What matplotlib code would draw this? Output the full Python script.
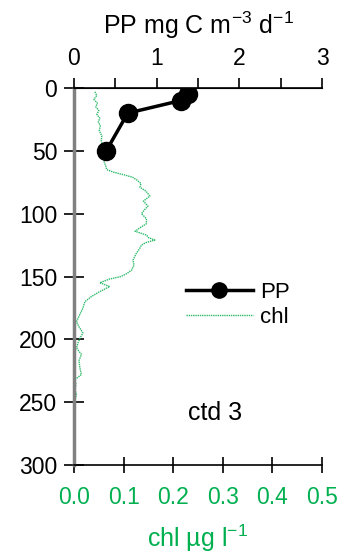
import matplotlib
matplotlib.use("Agg")
import matplotlib.pyplot as plt
from matplotlib.lines import Line2D

plt.rcParams['font.family'] = ['Liberation Sans', 'DejaVu Sans']
plt.rcParams['mathtext.fontset'] = 'custom'
plt.rcParams['mathtext.rm'] = 'Liberation Sans'
plt.rcParams['mathtext.default'] = 'regular'

# primary production at sampled depths
pp_depth = [5, 10, 20, 50]
pp_value = [1.38, 1.29, 0.65, 0.39]

# chlorophyll profile from the ctd cast
chl_depth = [3, 6, 9, 12, 15, 18, 21, 24, 27, 30,
             34, 38, 42, 46, 50, 54, 58, 62, 65, 67,
             69, 71, 73, 76, 79, 82, 86, 90, 94, 97,
             100, 104, 108, 111, 114, 117, 119, 121, 123, 125,
             128, 132, 137, 141, 145, 148, 150, 152, 155, 158,
             162, 166, 170, 175, 180, 186, 190, 195, 199, 203,
             207, 212, 217, 223, 228, 232, 236, 240, 244, 248]
chl_value = [0.042, 0.046, 0.040, 0.047, 0.044, 0.050, 0.046, 0.052, 0.049, 0.053,
             0.051, 0.056, 0.055, 0.058, 0.057, 0.062, 0.060, 0.064, 0.066, 0.080,
             0.100, 0.118, 0.126, 0.135, 0.133, 0.145, 0.153, 0.140, 0.149, 0.142,
             0.136, 0.146, 0.146, 0.134, 0.123, 0.146, 0.150, 0.163, 0.145, 0.136,
             0.132, 0.125, 0.119, 0.121, 0.116, 0.105, 0.095, 0.072, 0.052, 0.072,
             0.052, 0.035, 0.022, 0.018, 0.012, 0.005, 0.010, 0.018, 0.012, 0.008,
             0.005, 0.015, 0.010, 0.012, 0.015, 0.002, 0.004, 0.002, 0.005, 0.002]

green = '#00b050'
chl_color = '#2dbb6b'

fig = plt.figure(figsize=(3.45, 5.55), dpi=100)
ax = fig.add_axes([74 / 345, (555 - 465) / 555, 248 / 345, 377 / 555])

ax.plot(chl_value, chl_depth, color=chl_color, lw=1.0, ls=(0, (1, 0.6)))
ax.set_xlim(0, 0.5)
ax.set_ylim(300, 0)
ax.set_xticks([0.0, 0.1, 0.2, 0.3, 0.4, 0.5])
ax.set_xticklabels(['0.0', '0.1', '0.2', '0.3', '0.4', '0.5'])
ax.set_yticks([0, 50, 100, 150, 200, 250, 300])
ax.tick_params(axis='x', direction='inout', length=12, width=1.2, labelsize=16.5,
               labelcolor=green, pad=9)
ax.tick_params(axis='y', direction='inout', length=14, width=1.2, labelsize=16.5, pad=5)
ax.set_xlabel('chl µg l$^{-1}$', color=green, fontsize=18, labelpad=10)
ax.spines['right'].set_visible(False)
ax.spines['left'].set_color('#808080')
ax.spines['left'].set_linewidth(2.5)
ax.spines['bottom'].set_linewidth(1.2)

ax2 = ax.twiny()
ax2.plot(pp_value, pp_depth, color='black', lw=2.5, marker='o', markersize=13)
ax2.set_xlim(0, 3)
ax2.set_xticks([0, 1, 2, 3])
ax2.set_xticks([0.5, 1.5, 2.5], minor=True)
ax2.tick_params(axis='x', which='both', direction='out', length=7, width=1.2,
                labelsize=16.5, pad=6)
ax2.set_xlabel('PP mg C m$^{-3}$ d$^{-1}$', fontsize=18, labelpad=9)
ax2.spines['right'].set_visible(False)
ax2.spines['left'].set_visible(False)
ax2.spines['bottom'].set_visible(False)
ax2.spines['top'].set_linewidth(1.2)

handles = [Line2D([], [], color='black', lw=2.5, marker='o', markersize=11),
           Line2D([], [], color=chl_color, lw=1.0, ls=(0, (1, 0.6)))]
fig.legend(handles, ['PP', 'chl'], loc='center left', frameon=False,
           bbox_to_anchor=(166 / 345, 1 - 305 / 555), fontsize=16,
           handlelength=3.0, handletextpad=0.35, labelspacing=0.2)

fig.text(215 / 345, 1 - 413 / 555, 'ctd 3', fontsize=18, ha='center', va='center')

fig.savefig('out.png', dpi=100)
